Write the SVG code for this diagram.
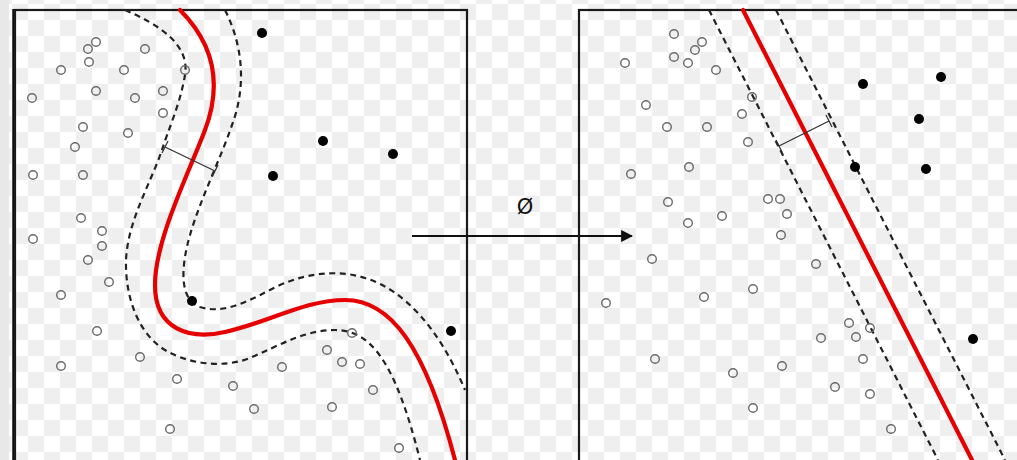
<svg xmlns="http://www.w3.org/2000/svg" width="1017" height="460" viewBox="0 0 1017 460">
<defs>
<pattern id="chk" width="32" height="32" patternUnits="userSpaceOnUse" patternTransform="translate(12,4)">
<rect width="32" height="32" fill="#ffffff"/>
<rect width="16" height="16" fill="#efefef"/>
<rect x="16" y="16" width="16" height="16" fill="#efefef"/>
</pattern>
<marker id="ah" viewBox="0 0 10 10" refX="9" refY="5" markerWidth="5.5" markerHeight="5.5" orient="auto" markerUnits="strokeWidth">
<path d="M0,0 L10,5 L0,10 z" fill="#111"/>
</marker>
</defs>
<style>
.frame{fill:none;stroke:#1a1a1a;stroke-width:2.2}
.o{fill:none;stroke:#6a6a6a;stroke-width:1.4}
.f{fill:#000}
.red{fill:none;stroke:#e60000;stroke-width:4.2;stroke-linecap:round}
.dash{fill:none;stroke:#222;stroke-width:2.2;stroke-dasharray:6 4.5}
.mk{fill:none;stroke:#333;stroke-width:1.3}
</style>
<rect width="1017" height="460" fill="url(#chk)"/>
<rect x="0" y="0" width="9" height="460" fill="#e8e8e8"/>

<g id="left-panel">
<line x1="14" y1="9" x2="14" y2="462" stroke="#111" stroke-width="3.5"/>
<rect class="frame" x="15" y="10" width="452" height="460"/>
<g id="left-margins">
<path class="dash" d="M125,10 C160,25 190,45 185,75 C180,105 168,130 162,150 C150,185 128,220 126,260 C125,300 140,335 165,350 C190,365 225,368 250,358 C280,345 305,330 335,330 C370,330 395,360 420,460"/>
<path class="dash" d="M225,10 C245,50 245,90 232,125 C220,160 200,200 190,235 C180,270 180,300 200,307 C225,315 250,300 280,285 C310,272 340,270 365,278 C405,290 440,330 465,390"/>
</g>
<path id="left-boundary" class="red" d="M180,10 C215,45 222,85 205,130 C188,175 155,240 155,285 C155,330 190,340 225,332 C270,322 305,300 345,300 C390,300 425,345 455,460"/>
<g id="left-width-marker" class="mk">
<line x1="165" y1="147" x2="215" y2="171"/>
<line x1="162" y1="153" x2="168" y2="141"/>
<line x1="212" y1="177" x2="218" y2="165"/>
</g>
<g id="left-open-points" class="o">
<circle cx="96" cy="42" r="4.3"/><circle cx="88" cy="49" r="4.3"/><circle cx="145" cy="49" r="4.3"/>
<circle cx="89" cy="62" r="4.3"/><circle cx="61" cy="70" r="4.3"/><circle cx="124" cy="70" r="4.3"/>
<circle cx="185" cy="70" r="4.3"/><circle cx="32" cy="98" r="4.3"/><circle cx="96" cy="91" r="4.3"/>
<circle cx="135" cy="98" r="4.3"/><circle cx="163" cy="91" r="4.3"/><circle cx="163" cy="113" r="4.3"/>
<circle cx="83" cy="127" r="4.3"/><circle cx="128" cy="133" r="4.3"/><circle cx="75" cy="147" r="4.3"/>
<circle cx="33" cy="175" r="4.3"/><circle cx="83" cy="175" r="4.3"/><circle cx="81" cy="218" r="4.3"/>
<circle cx="102" cy="231" r="4.3"/><circle cx="33" cy="239" r="4.3"/><circle cx="102" cy="246" r="4.3"/>
<circle cx="88" cy="260" r="4.3"/><circle cx="109" cy="282" r="4.3"/><circle cx="61" cy="295" r="4.3"/>
<circle cx="97" cy="331" r="4.3"/><circle cx="140" cy="357" r="4.3"/><circle cx="61" cy="366" r="4.3"/>
<circle cx="177" cy="379" r="4.3"/><circle cx="233" cy="386" r="4.3"/><circle cx="170" cy="429" r="4.3"/>
<circle cx="352" cy="333" r="4.3"/><circle cx="327" cy="350" r="4.3"/><circle cx="282" cy="367" r="4.3"/>
<circle cx="342" cy="362" r="4.3"/><circle cx="360" cy="364" r="4.3"/><circle cx="373" cy="390" r="4.3"/>
<circle cx="254" cy="409" r="4.3"/><circle cx="332" cy="407" r="4.3"/><circle cx="399" cy="448" r="4.3"/>
</g>
<g id="left-filled-points" class="f">
<circle cx="262" cy="33" r="5"/><circle cx="323" cy="141" r="5"/><circle cx="393" cy="154" r="5"/>
<circle cx="273" cy="176" r="5"/><circle cx="192" cy="301" r="5"/><circle cx="451" cy="331" r="5"/>
</g>
</g>

<g id="connectors">
<line x1="412" y1="236" x2="632" y2="236" stroke="#111" stroke-width="2.2" marker-end="url(#ah)"/>
</g>
<text id="map-label" x="525" y="214" font-family="'DejaVu Sans', sans-serif" font-size="21" text-anchor="middle" fill="#111">Ø</text>

<g id="right-panel">
<rect class="frame" x="579" y="10" width="460" height="460"/>
<g id="right-margins">
<line class="dash" x1="709" y1="10" x2="938" y2="460"/>
<line class="dash" x1="776" y1="10" x2="1005" y2="460"/>
</g>
<line id="right-boundary" class="red" x1="743" y1="10" x2="972" y2="460"/>
<g id="right-width-marker" class="mk">
<line x1="779" y1="146" x2="829" y2="121"/>
<line x1="776" y1="140" x2="782" y2="152"/>
<line x1="826" y1="115" x2="832" y2="127"/>
</g>
<g id="right-open-points" class="o">
<circle cx="674" cy="34" r="4.3"/><circle cx="702" cy="42" r="4.3"/><circle cx="695" cy="50" r="4.3"/>
<circle cx="625" cy="63" r="4.3"/><circle cx="674" cy="57" r="4.3"/><circle cx="688" cy="63" r="4.3"/>
<circle cx="716" cy="70" r="4.3"/><circle cx="752" cy="97" r="4.3"/><circle cx="646" cy="105" r="4.3"/>
<circle cx="742" cy="114" r="4.3"/><circle cx="667" cy="127" r="4.3"/><circle cx="707" cy="127" r="4.3"/>
<circle cx="748" cy="142" r="4.3"/><circle cx="689" cy="167" r="4.3"/><circle cx="631" cy="174" r="4.3"/>
<circle cx="668" cy="202" r="4.3"/><circle cx="768" cy="199" r="4.3"/><circle cx="780" cy="199" r="4.3"/>
<circle cx="787" cy="214" r="4.3"/><circle cx="722" cy="216" r="4.3"/><circle cx="688" cy="223" r="4.3"/>
<circle cx="781" cy="235" r="4.3"/><circle cx="652" cy="259" r="4.3"/><circle cx="753" cy="289" r="4.3"/>
<circle cx="704" cy="297" r="4.3"/><circle cx="606" cy="303" r="4.3"/><circle cx="655" cy="359" r="4.3"/>
<circle cx="733" cy="373" r="4.3"/><circle cx="782" cy="366" r="4.3"/><circle cx="753" cy="408" r="4.3"/>
<circle cx="816" cy="264" r="4.3"/><circle cx="849" cy="323" r="4.3"/><circle cx="870" cy="328" r="4.3"/>
<circle cx="821" cy="338" r="4.3"/><circle cx="856" cy="337" r="4.3"/><circle cx="863" cy="359" r="4.3"/>
<circle cx="835" cy="387" r="4.3"/><circle cx="870" cy="394" r="4.3"/><circle cx="891" cy="429" r="4.3"/>
</g>
<g id="right-filled-points" class="f">
<circle cx="863" cy="84" r="5"/><circle cx="941" cy="77" r="5"/><circle cx="919" cy="119" r="5"/>
<circle cx="855" cy="167" r="5"/><circle cx="926" cy="169" r="5"/><circle cx="973" cy="339" r="5"/>
</g>
</g>
</svg>
